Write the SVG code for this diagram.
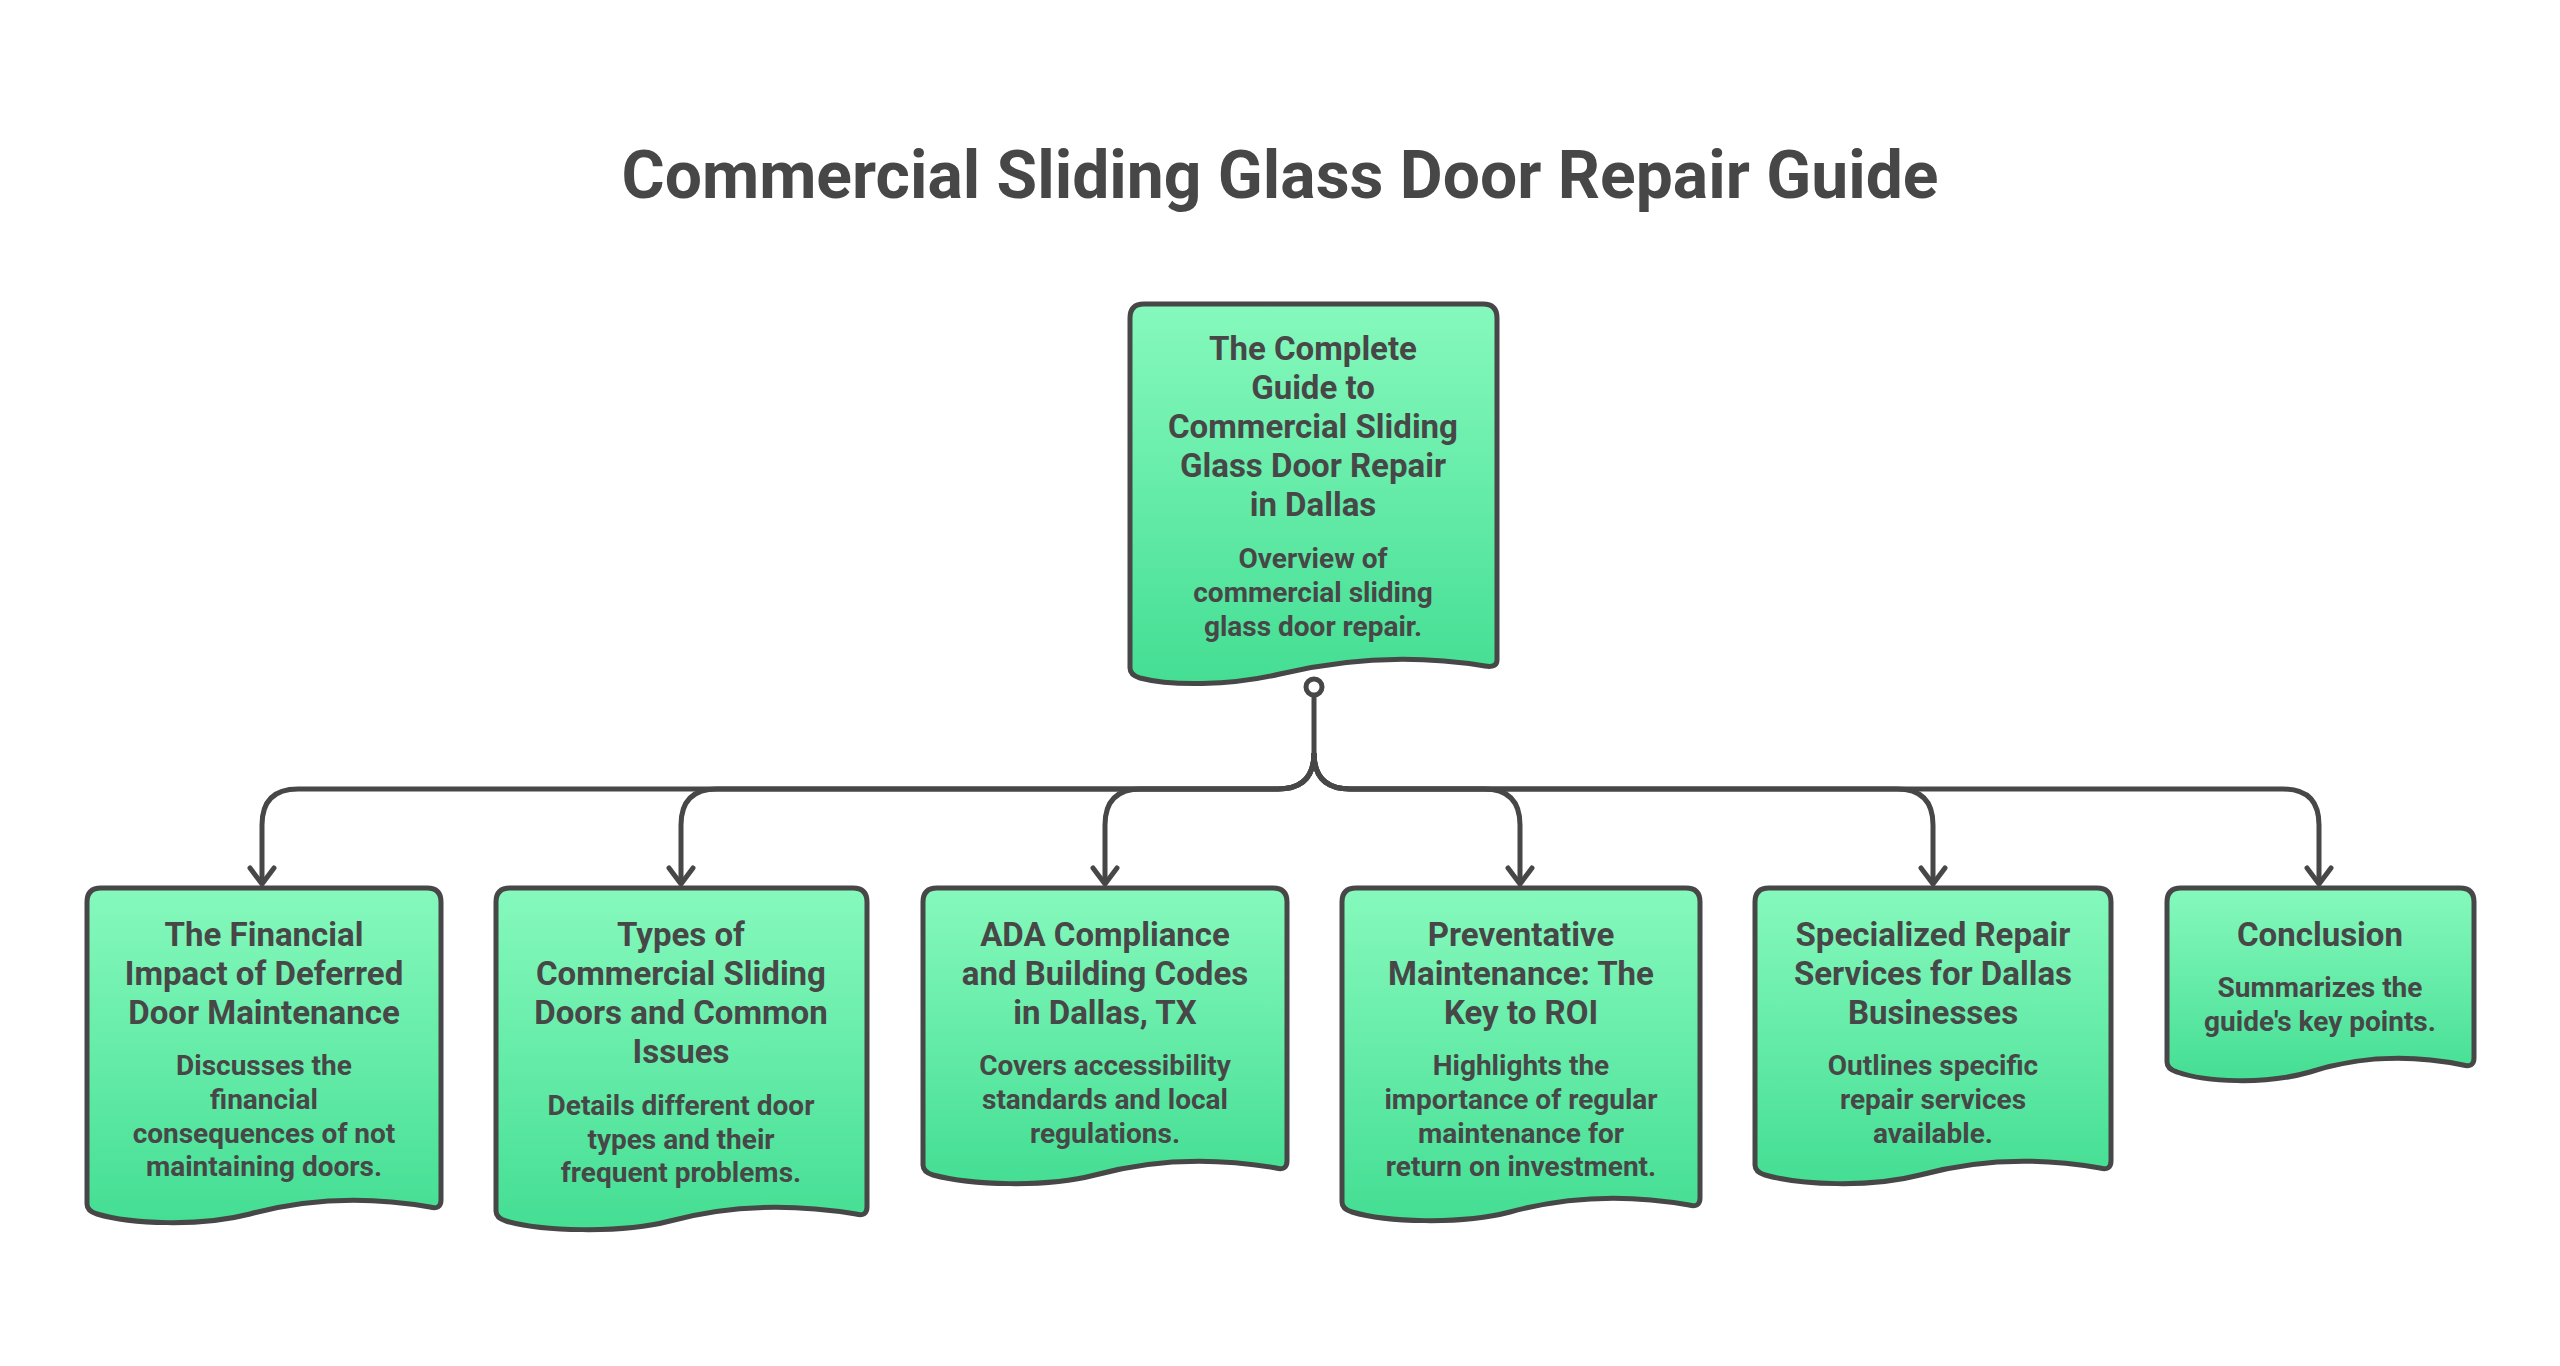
<svg xmlns="http://www.w3.org/2000/svg" width="2560" height="1366" viewBox="0 0 2560 1366">
<defs>
<linearGradient id="g" x1="0" y1="0" x2="0" y2="1"><stop offset="0" stop-color="#86f9bd"/><stop offset="1" stop-color="#44de93"/></linearGradient>
<marker id="ah" markerWidth="30" markerHeight="30" viewBox="0 0 30 30" refX="15" refY="24" orient="auto-start-reverse" markerUnits="userSpaceOnUse">
<path d="M3,10 L15,24 L27,10" fill="none" stroke="#474747" stroke-width="5" stroke-linecap="round" stroke-linejoin="round" transform="rotate(-90 15 24) rotate(90 15 24)"/>
</marker>
<style>
.n{fill:url(#g);stroke:#474747;stroke-width:5;stroke-linejoin:round}
.t{font-family:Roboto,"Liberation Sans",sans-serif;font-weight:700;fill:#474747;text-anchor:middle}
.h{font-size:33px}.d{font-size:28px}
.c{fill:none;stroke:#474747;stroke-width:5}
</style>
</defs>
<rect width="2560" height="1366" fill="#fff"/>
<text class="t" x="1280" y="198" font-size="66">Commercial Sliding Glass Door Repair Guide</text>
<g id="connectors">
<path class="c" d="M1314,694 V753 Q1314,789 1278,789 H298 Q262,789 262,825 V884"/>
<path class="c" d="M1314,753 Q1314,789 1278,789 H717 Q681,789 681,825 V884"/>
<path class="c" d="M1314,753 Q1314,789 1278,789 H1141 Q1105,789 1105,825 V884"/>
<path class="c" d="M1314,753 Q1314,789 1350,789 H1484 Q1520,789 1520,825 V884"/>
<path class="c" d="M1314,753 Q1314,789 1350,789 H1897 Q1933,789 1933,825 V884"/>
<path class="c" d="M1314,753 Q1314,789 1350,789 H2283 Q2319,789 2319,825 V884"/>
<g fill="none" stroke="#474747" stroke-width="5" stroke-linecap="round" stroke-linejoin="round">
<path d="M250,868 L262,884 L274,868"/><path d="M669,868 L681,884 L693,868"/><path d="M1093,868 L1105,884 L1117,868"/>
<path d="M1508,868 L1520,884 L1532,868"/><path d="M1921,868 L1933,884 L1945,868"/><path d="M2307,868 L2319,884 L2331,868"/>
</g>
<circle cx="1314" cy="687" r="8" fill="#fff" stroke="#474747" stroke-width="5"/>
</g>
<g id="main">
<path class="n" d="M1130,318 Q1130,304 1144,304 H1483 Q1497,304 1497,318 V660 Q1497,668 1485,666 C1400,652 1330,662 1280,674 C1230,686 1170,686 1140,678 Q1130,675 1130,668 Z"/>
<text class="t h" x="1313" y="360">The Complete</text>
<text class="t h" x="1313" y="399">Guide to</text>
<text class="t h" x="1313" y="438">Commercial Sliding</text>
<text class="t h" x="1313" y="477">Glass Door Repair</text>
<text class="t h" x="1313" y="516">in Dallas</text>
<text class="t d" x="1313" y="568">Overview of</text>
<text class="t d" x="1313" y="602">commercial sliding</text>
<text class="t d" x="1313" y="636">glass door repair.</text>
</g>
<g id="n1">
<path class="n" d="M87,902 Q87,888 101,888 H427 Q441,888 441,902 V1200 Q441,1210 430,1207 C350,1193 290,1203 250,1214 C200,1227 130,1224 97,1214 Q87,1211 87,1204 Z"/>
<text class="t h" x="264" y="946">The Financial</text>
<text class="t h" x="264" y="985">Impact of Deferred</text>
<text class="t h" x="264" y="1024">Door Maintenance</text>
<text class="t d" x="264" y="1075">Discusses the</text>
<text class="t d" x="264" y="1109">financial</text>
<text class="t d" x="264" y="1143">consequences of not</text>
<text class="t d" x="264" y="1176">maintaining doors.</text>
</g>
<g id="n2">
<path class="n" d="M496,902 Q496,888 510,888 H853 Q867,888 867,902 V1207 Q867,1217 856,1214 C770,1200 710,1210 670,1221 C620,1234 540,1231 506,1221 Q496,1218 496,1211 Z"/>
<text class="t h" x="681" y="946">Types of</text>
<text class="t h" x="681" y="985">Commercial Sliding</text>
<text class="t h" x="681" y="1024">Doors and Common</text>
<text class="t h" x="681" y="1063">Issues</text>
<text class="t d" x="681" y="1115">Details different door</text>
<text class="t d" x="681" y="1149">types and their</text>
<text class="t d" x="681" y="1182">frequent problems.</text>
</g>
<g id="n3">
<path class="n" d="M923,902 Q923,888 937,888 H1273 Q1287,888 1287,902 V1161 Q1287,1171 1276,1168 C1195,1154 1135,1164 1095,1175 C1045,1188 970,1185 933,1175 Q923,1172 923,1165 Z"/>
<text class="t h" x="1105" y="946">ADA Compliance</text>
<text class="t h" x="1105" y="985">and Building Codes</text>
<text class="t h" x="1105" y="1024">in Dallas, TX</text>
<text class="t d" x="1105" y="1075">Covers accessibility</text>
<text class="t d" x="1105" y="1109">standards and local</text>
<text class="t d" x="1105" y="1143">regulations.</text>
</g>
<g id="n4">
<path class="n" d="M1342,902 Q1342,888 1356,888 H1686 Q1700,888 1700,902 V1198 Q1700,1208 1689,1205 C1610,1191 1550,1201 1510,1212 C1460,1225 1385,1222 1352,1212 Q1342,1209 1342,1202 Z"/>
<text class="t h" x="1521" y="946">Preventative</text>
<text class="t h" x="1521" y="985">Maintenance: The</text>
<text class="t h" x="1521" y="1024">Key to ROI</text>
<text class="t d" x="1521" y="1075">Highlights the</text>
<text class="t d" x="1521" y="1109">importance of regular</text>
<text class="t d" x="1521" y="1143">maintenance for</text>
<text class="t d" x="1521" y="1176">return on investment.</text>
</g>
<g id="n5">
<path class="n" d="M1755,902 Q1755,888 1769,888 H2097 Q2111,888 2111,902 V1161 Q2111,1171 2100,1168 C2020,1154 1960,1164 1920,1175 C1870,1188 1800,1185 1765,1175 Q1755,1172 1755,1165 Z"/>
<text class="t h" x="1933" y="946">Specialized Repair</text>
<text class="t h" x="1933" y="985">Services for Dallas</text>
<text class="t h" x="1933" y="1024">Businesses</text>
<text class="t d" x="1933" y="1075">Outlines specific</text>
<text class="t d" x="1933" y="1109">repair services</text>
<text class="t d" x="1933" y="1143">available.</text>
</g>
<g id="n6">
<path class="n" d="M2167,902 Q2167,888 2181,888 H2460 Q2474,888 2474,902 V1058 Q2474,1068 2463,1065 C2395,1051 2345,1061 2310,1072 C2265,1085 2205,1082 2177,1072 Q2167,1069 2167,1062 Z"/>
<text class="t h" x="2320" y="946">Conclusion</text>
<text class="t d" x="2320" y="997">Summarizes the</text>
<text class="t d" x="2320" y="1031">guide's key points.</text>
</g>
</svg>
